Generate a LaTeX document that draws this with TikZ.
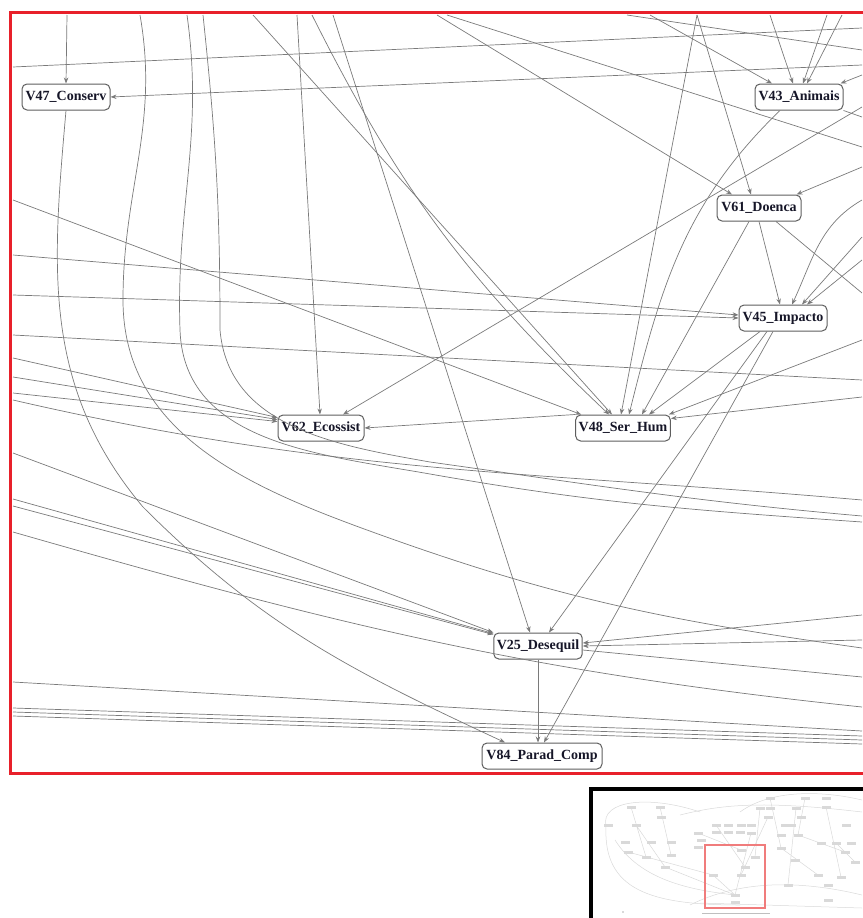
\documentclass[tikz,border=0pt]{standalone}
\usepackage{fontspec}
\setmainfont{Liberation Serif}
\usepackage{tikz}
\usetikzlibrary{arrows.meta}
\definecolor{edgegray}{HTML}{7A7A7A}
\definecolor{boxgray}{HTML}{5E5E5E}
\definecolor{ink}{HTML}{161628}
\definecolor{framered}{HTML}{E8202A}
\definecolor{thumbred}{HTML}{F07C7C}
\tikzset{
  var/.style={draw=boxgray, line width=1pt, rounded corners=5pt, fill=white,
    minimum width=88pt, minimum height=26pt, inner xsep=3pt, inner ysep=0pt,
    text=ink, font=\bfseries\fontsize{14}{16}\selectfont},
  link/.style={draw=edgegray, line width=0.7pt},
  arr/.style={link, -{Stealth[length=6pt,width=4.5pt]}},
  frame/.style={draw=framered, line width=3pt},
  inset/.style={draw=black, line width=3.5pt},
  thumb/.style={draw=gray!30, line width=0.5pt},
  tiny/.style={fill=gray!30}
}

\begin{document}
\begin{tikzpicture}[x=1pt,y=-1pt]
  \useasboundingbox (0,0) rectangle (862,918);
  \draw[frame] (900,12) -- (10,12) -- (10,773) -- (900,773);

  % variables
  \node[var] (V47) at (66,97) {V47\_Conserv};
  \node[var] (V43) at (799,97) {V43\_Animais};
  \node[var, minimum width=84pt] (V61) at (759,208) {V61\_Doenca};
  \node[var] (V45) at (783,318) {V45\_Impacto};
  \node[var, minimum width=86pt] (V62) at (321,428) {V62\_Ecossist};
  \node[var, minimum width=93pt] (V48) at (623,428) {V48\_Ser\_Hum};
  \node[var] (V25) at (538,646) {V25\_Desequil};
  \node[var, minimum width=120pt] (V84) at (542,756) {V84\_Parad\_Comp};

  % loose ends at the frame
  \coordinate (T1) at (67,15);  \coordinate (T2) at (140,15);
  \coordinate (T3) at (187,15); \coordinate (T4) at (203,15);
  \coordinate (T5) at (253,15); \coordinate (T6) at (297,15);
  \coordinate (T7) at (312,15); \coordinate (T8) at (333,15);
  \coordinate (T9) at (437,15); \coordinate (T10) at (447,15);
  \coordinate (T11) at (627,15); \coordinate (T12) at (650,15);
  \coordinate (T13) at (697,15); \coordinate (T14) at (770,15);
  \coordinate (T15) at (827,15); \coordinate (T16) at (842,15);
  \coordinate (L1) at (13,67);  \coordinate (L2) at (13,200);
  \coordinate (L3) at (13,255); \coordinate (L4) at (13,295);
  \coordinate (L5) at (13,335); \coordinate (L6) at (13,358);
  \coordinate (L7) at (13,377); \coordinate (L8) at (13,393);
  \coordinate (L9) at (13,400); \coordinate (L10) at (13,453);
  \coordinate (L11) at (13,499); \coordinate (L12) at (13,506);
  \coordinate (L13) at (13,532); \coordinate (L14) at (13,682);
  \coordinate (L15) at (13,708); \coordinate (L16) at (13,712);
  \coordinate (L17) at (13,716);
  \coordinate (R1) at (862,28);  \coordinate (R2) at (862,50);
  \coordinate (R3) at (862,65);  \coordinate (R4) at (862,75);
  \coordinate (R5) at (862,107); \coordinate (R6) at (862,117);
  \coordinate (R7) at (862,147); \coordinate (R8) at (862,167);
  \coordinate (R9) at (862,200); \coordinate (R10) at (862,237);
  \coordinate (R11) at (862,260); \coordinate (R12) at (862,293);
  \coordinate (R13) at (862,340); \coordinate (R14) at (862,380);
  \coordinate (R15) at (862,397); \coordinate (R16) at (862,500);
  \coordinate (R17) at (862,516); \coordinate (R18) at (862,522);
  \coordinate (R19) at (862,615); \coordinate (R20) at (862,640);
  \coordinate (R21) at (862,648); \coordinate (R22) at (862,677);
  \coordinate (R23) at (862,707); \coordinate (R24) at (862,731);
  \coordinate (R25) at (862,736); \coordinate (R26) at (862,740);
  \coordinate (R27) at (862,744);

  % V47
  \draw[arr] (T1) -- (V47.north);
  \draw[arr] (R3) -- (V47.east);
  \draw[arr] (V47.south) to[out=-95,in=130] (143,507) to[out=-45,in=155] ([xshift=-37pt]V84.north);
  % V43
  \draw[arr] (T12) -- ([xshift=-27pt]V43.north);
  \draw[arr] (T14) -- ([xshift=-6pt]V43.north);
  \draw[arr] (T15) -- ([xshift=4pt]V43.north);
  \draw[arr] (T16) -- ([xshift=8pt]V43.north);
  \draw[arr] (R4) -- ([xshift=-3pt]V43.north east);
  \draw[link] (V43.south east) -- (R6);
  \draw[arr] ([xshift=-19pt]V43.south) to[out=224,in=76] ([xshift=6pt]V48.north);
  % V61
  \draw[arr] (T9) -- ([xshift=-27pt]V61.north);
  \draw[arr] (T13) -- ([xshift=-8pt]V61.north);
  \draw[arr] (R8) -- ([xshift=-5pt]V61.north east);
  \draw[arr] ([xshift=-10pt]V61.south) -- ([xshift=19pt]V48.north);
  \draw[arr] (V61.south) -- ([xshift=-3pt]V45.north);
  \draw[link] ([xshift=17pt]V61.south) -- (R12);
  % V45
  \draw[arr] (R9) to[out=210,in=65] ([xshift=9pt]V45.north);
  \draw[arr] (R10) -- ([xshift=19pt]V45.north);
  \draw[arr] (R11) -- ([xshift=24pt]V45.north);
  \draw[arr] (L3) -- ([yshift=3pt]V45.west);
  \draw[arr] (L4) -- (V45.west);
  \draw[arr] ([xshift=-23pt]V45.south) -- ([xshift=26pt]V48.north);
  \draw[arr] ([xshift=-16pt]V45.south) -- ([xshift=11pt]V25.north);
  \draw[arr] ([xshift=-10pt]V45.south) -- ([xshift=2pt]V84.north);
  % V48
  \draw[arr] (T5) -- ([xshift=-11pt]V48.north);
  \draw[arr] (T7) to[bend right=10] ([xshift=-14pt]V48.north);
  \draw[arr] (T13) -- ([xshift=-2pt]V48.north);
  \draw[arr] (L2) -- ([xshift=6pt]V48.north west);
  \draw[arr] (R13) -- ([xshift=-2pt]V48.north east);
  \draw[arr] (R15) -- ([yshift=-4pt]V48.north east);
  \draw[arr] (V48.north west) -- (V62.east);
  % V62
  \draw[arr] (T6) -- ([xshift=-1pt]V62.north);
  \draw[arr] (R5) -- ([xshift=22pt]V62.north);
  \draw[arr] (L6) -- ([yshift=-3pt]V62.north west);
  \draw[arr] (L7) -- ([yshift=-5pt]V62.north west);
  \draw[arr] (L8) -- ([yshift=-7pt]V62.north west);
  % V25
  \draw[arr] (T8) -- ([xshift=-8pt]V25.north);
  \draw[arr] (L10) -- (V25.north west);
  \draw[arr] (L11) -- ([yshift=-1pt]V25.north west);
  \draw[arr] (L12) -- ([yshift=-2pt]V25.north west);
  \draw[arr] (R19) -- ([yshift=3pt]V25.east);
  \draw[arr] (R20) -- (V25.east);
  \draw[link] ([yshift=-4pt]V25.east) -- (R22);
  \draw[arr] (V25.south) -- ([xshift=-4pt]V84.north);
  % edges running through
  \draw[link] (L1) -- (R1);
  \draw[link] (T11) -- (R2);
  \draw[link] (T10) -- (R7);
  \draw[link] (L5) -- (R14);
  \draw[link] (L9) to[out=-13,in=175] (R16);
  \draw[link] (T2) to[out=-80,in=90] (123,300) to[out=-90,in=160] (367,530) to[out=-20,in=172] (R21);
  \draw[link] (T3) to[out=-82,in=92] (180,330) to[out=-88,in=170] (430,474) to[out=-10,in=176] (R18);
  \draw[link] (T4) to[out=-84,in=90] (220,330) to[out=-85,in=170] (430,462) to[out=-8,in=175] (R17);
  \draw[link] (L13) to[out=-16,in=174] (R23);
  \draw[link] (L14) -- (R24);
  \draw[link] (L15) -- (R25);
  \draw[link] (L16) -- (R26);
  \draw[link] (L17) -- (R27);

  % overview inset
  \draw[inset] (591,930) -- (591,789) -- (900,789);
  \draw[thumb] (606,826) .. controls (600,800) and (650,795) .. (700,812);
  \draw[thumb] (606,826) .. controls (603,890) and (650,905) .. (740,905);
  \draw[thumb] (700,903) -- (862,908);
  \draw[thumb] (680,815) .. controls (720,805) and (760,800) .. (862,812);
  \draw[thumb] (690,905) .. controls (740,880) and (800,880) .. (862,895);
  \draw[thumb] (615,840) .. controls (640,880) and (690,890) .. (735,895);
  \draw[thumb] (740,812) .. controls (770,790) and (820,790) .. (862,800);
  \draw[thumb] (631,807) -- (646,857) (660,807) -- (671,855) (636,825) -- (665,867)
    (716,825) -- (745,867) (770,798) -- (781,848) (805,798) -- (798,835)
    (826,807) -- (841,877) (768,817) -- (741,875) (751,833) -- (735,895)
    (713,875) -- (735,895) (665,867) -- (735,895) (698,833) -- (741,850)
    (781,848) -- (818,875) (798,835) -- (845,852) (628,852) -- (713,875)
    (796,808) -- (788,885) (760,808) -- (755,857) (836,843) -- (855,862);
  \foreach \x/\y in {631/807, 660/807, 608/825, 636/825, 661/817, 625/842,
      651/842, 671/842, 628/852, 646/857, 671/855, 665/867, 698/833, 698/847,
      716/825, 728/825, 741/825, 751/825, 716/832, 728/832, 740/832, 751/833,
      770/798, 760/808, 770/808, 805/798, 826/798, 796/808, 826/807, 768/817,
      801/817, 785/825, 791/825, 781/835, 798/835, 846/825, 821/843, 836/843,
      851/843, 845/852, 855/862, 788/885, 828/885, 741/850, 755/857, 745/867,
      713/875, 741/875, 735/895, 735/902, 781/848, 795/860, 818/875, 841/877,
      828/900, 701/840}
    \fill[tiny] (\x-4.5,\y-1.5) rectangle (\x+4.5,\y+1.5);
  \draw[draw=thumbred, line width=1.2pt] (705,845) rectangle (765,908);
  \draw[gray!50, line width=0.8pt] (702,913) -- (770,913);
  \fill[gray!60] (623,912) circle (0.8);
\end{tikzpicture}
\end{document}
